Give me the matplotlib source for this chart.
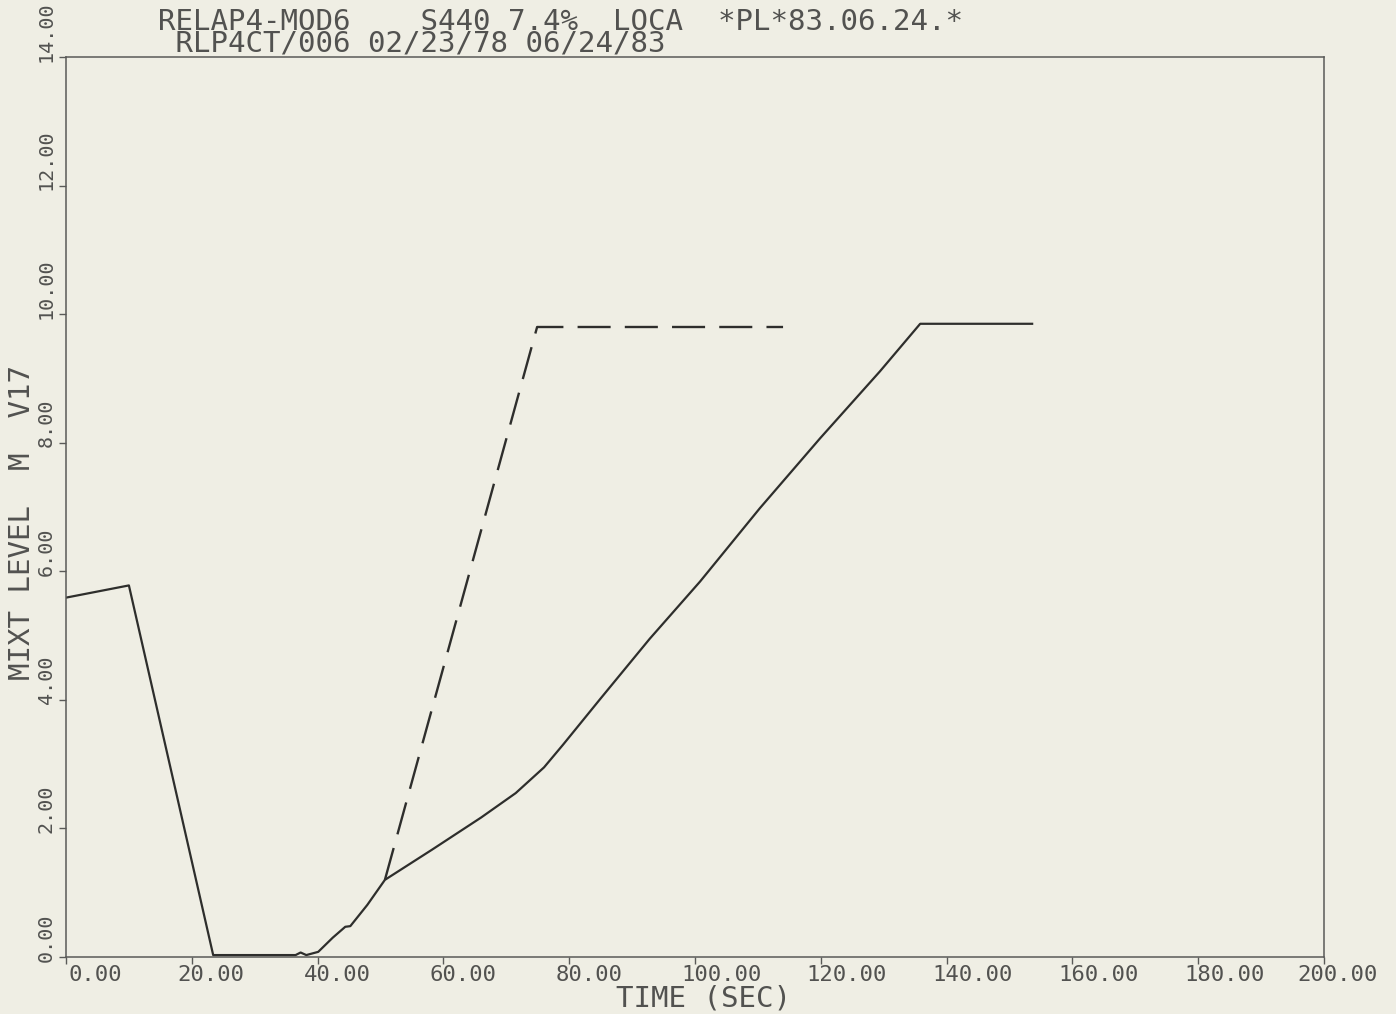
import matplotlib.pyplot as plt
from matplotlib.transforms import ScaledTranslation

# solid curve (time s, mixture level m)
t_solid = [0.0, 10.0, 23.4, 36.5, 37.3, 38.2, 40.1, 42.4, 44.4, 45.2, 47.9, 50.7,
           58.2, 66.0, 71.5, 76.0, 79.0, 84.9, 92.8, 100.8, 110.3, 119.9, 129.4, 135.8, 153.6]
v_solid = [5.59, 5.78, 0.03, 0.03, 0.07, 0.03, 0.08, 0.30, 0.47, 0.48, 0.81, 1.20,
           1.67, 2.17, 2.55, 2.95, 3.30, 4.01, 4.95, 5.84, 6.98, 8.07, 9.11, 9.85, 9.85]

# dashed curve
t_dash = [50.7, 74.9, 114.0]
v_dash = [1.20, 9.80, 9.80]

x_ticks = [0, 20, 40, 60, 80, 100, 120, 140, 160, 180, 200]
x_labels = ["0.00", "20.00", "40.00", "60.00", "80.00", "100.00", "120.00",
            "140.00", "160.00", "180.00", "200.00"]
y_ticks = [0, 2, 4, 6, 8, 10, 12, 14]
y_labels = ["0.00", "2.00", "4.00", "6.00", "8.00", "10.00", "12.00", "14.00"]

title = "RELAP4-MOD6    S440 7.4%  LOCA  *PL*83.06.24.*\n RLP4CT/006 02/23/78 06/24/83"

paper = "#efeee4"
ink = "#525250"
font = "DejaVu Sans Mono"

fig = plt.figure(figsize=(13.96, 10.14), dpi=100, facecolor=paper)
ax = fig.add_axes([66 / 1396, 1 - 957 / 1014, (1324 - 66) / 1396, (957 - 57) / 1014])
ax.set_facecolor(paper)

ax.plot(t_solid, v_solid, color="#2e2e2c", lw=1.6)
ax.plot(t_dash, v_dash, color="#2e2e2c", lw=1.7, dashes=(14, 6))

ax.set_xlim(0, 200)
ax.set_ylim(0, 14)
for s in ax.spines.values():
    s.set_color("#5a5a58")
    s.set_linewidth(1.1)

ax.set_xticks(x_ticks, x_labels)
ax.set_yticks(y_ticks, y_labels)
ax.tick_params(direction="out", length=5, width=1, color="#5a5a58",
               labelcolor=ink, pad=1)
ax.tick_params(axis="x", labelsize=16)
ax.tick_params(axis="y", labelsize=14.5)
xl = ax.get_xticklabels()
for i, lbl in enumerate(xl):
    dx = -14
    if i == 0:
        dx = 2
    elif i == len(xl) - 1:
        dx = -27
    lbl.set_fontfamily(font)
    lbl.set_ha("left")
    lbl.set_transform(lbl.get_transform() + ScaledTranslation(dx / 100, 0, fig.dpi_scale_trans))
for lbl in ax.get_yticklabels():
    lbl.set_fontfamily(font)
    lbl.set_rotation(90)
    lbl.set_va("bottom")
    lbl.set_transform(lbl.get_transform() + ScaledTranslation(-0.02, -0.045, fig.dpi_scale_trans))

ax.set_xlabel("TIME (SEC)", fontsize=21, family=font, color=ink)
ax.xaxis.set_label_coords(0.507, -0.03)
ax.set_ylabel("MIXT LEVEL  M  V17", fontsize=21, family=font, color=ink)
ax.yaxis.set_label_coords(-0.0235, 0.483)

fig.text(158 / 1396, 1 - 52 / 1014, title, fontsize=21, family=font, color=ink,
         va="baseline", linespacing=0.72)

fig.savefig("out.png", dpi=100, facecolor=paper)
